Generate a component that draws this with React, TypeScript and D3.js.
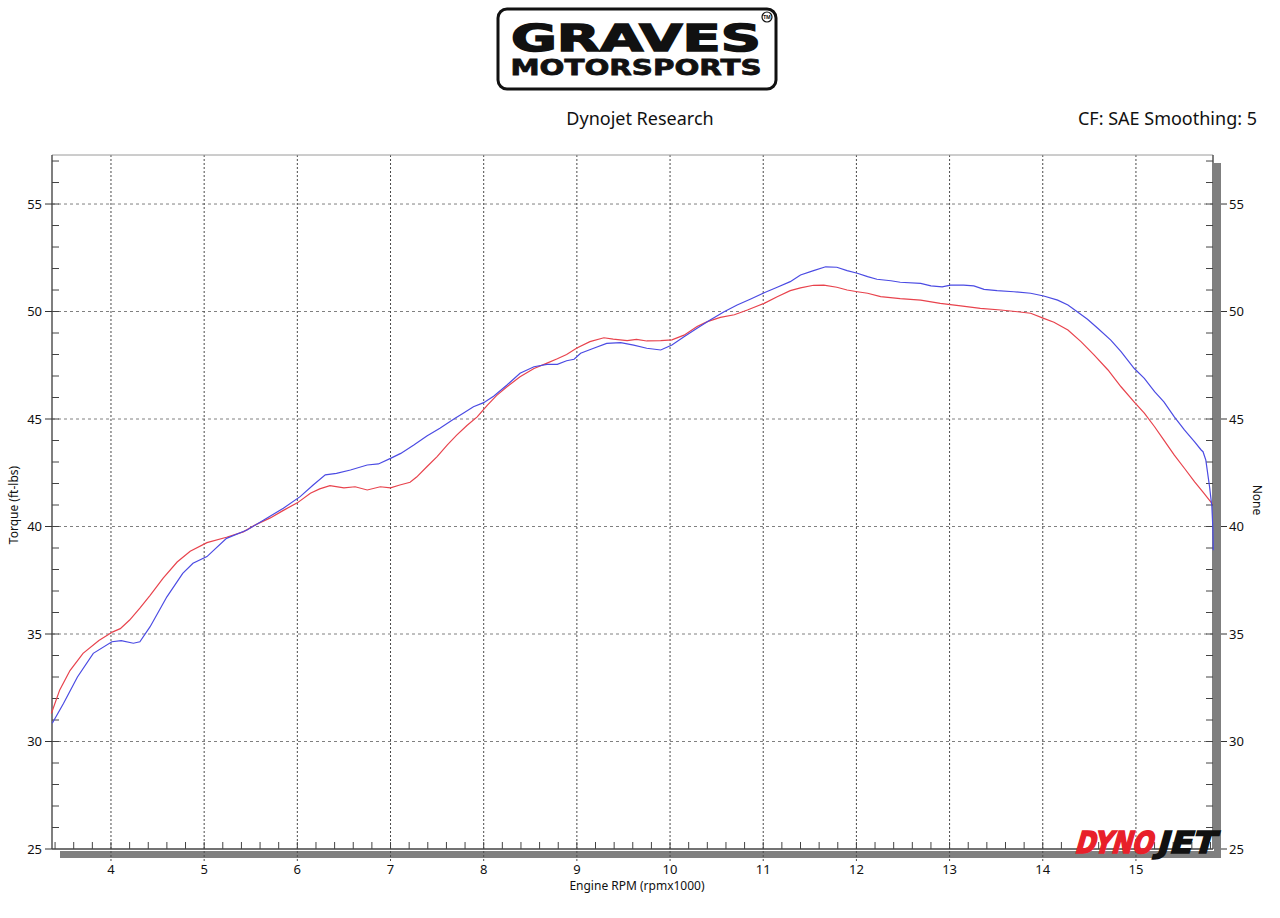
import * as d3 from "d3";

// baseline run (red) and modified run (blue), rpm x1000 vs torque ft-lbs
const redRpm = [3.36, 3.45, 3.56, 3.7, 3.87, 4.02, 4.1, 4.2, 4.31, 4.42, 4.56, 4.71, 4.85, 5.03, 5.24, 5.42, 5.56, 5.71, 5.85, 6.0, 6.14, 6.24, 6.35, 6.5, 6.62, 6.75, 6.89, 7.0, 7.1, 7.21, 7.28, 7.39, 7.5, 7.61, 7.71, 7.82, 7.93, 8.04, 8.14, 8.25, 8.39, 8.54, 8.68, 8.79, 8.89, 9.0, 9.14, 9.29, 9.39, 9.54, 9.64, 9.75, 9.9, 10.02, 10.15, 10.29, 10.4, 10.54, 10.69, 10.83, 11.01, 11.15, 11.29, 11.4, 11.54, 11.65, 11.79, 11.9, 12.01, 12.12, 12.26, 12.47, 12.69, 12.9, 13.12, 13.33, 13.55, 13.73, 13.87, 14.01, 14.12, 14.27, 14.41, 14.55, 14.7, 14.84, 14.98, 15.09, 15.2, 15.3, 15.41, 15.52, 15.63, 15.72, 15.82];
const redTq = [31.3, 32.4, 33.3, 34.1, 34.7, 35.1, 35.25, 35.65, 36.2, 36.8, 37.6, 38.35, 38.85, 39.25, 39.5, 39.75, 40.1, 40.4, 40.75, 41.1, 41.55, 41.75, 41.9, 41.8, 41.85, 41.7, 41.85, 41.8, 41.93, 42.06, 42.3, 42.78, 43.25, 43.8, 44.25, 44.7, 45.1, 45.65, 46.1, 46.5, 46.97, 47.35, 47.6, 47.8, 48.0, 48.3, 48.6, 48.78, 48.72, 48.65, 48.7, 48.63, 48.65, 48.68, 48.9, 49.3, 49.53, 49.73, 49.85, 50.07, 50.38, 50.69, 50.97, 51.1, 51.22, 51.23, 51.13, 51.0, 50.92, 50.85, 50.69, 50.6, 50.53, 50.38, 50.26, 50.15, 50.07, 49.99, 49.92, 49.68, 49.5, 49.14, 48.6, 47.98, 47.28, 46.5, 45.8, 45.27, 44.64, 44.02, 43.33, 42.71, 42.08, 41.6, 41.05];

const blueRpm = [3.37, 3.49, 3.64, 3.81, 4.01, 4.11, 4.24, 4.31, 4.42, 4.6, 4.77, 4.88, 5.03, 5.24, 5.46, 5.64, 5.85, 6.03, 6.17, 6.3, 6.42, 6.57, 6.75, 6.87, 7.0, 7.11, 7.25, 7.39, 7.53, 7.68, 7.78, 7.89, 8.0, 8.11, 8.25, 8.39, 8.54, 8.68, 8.79, 8.89, 8.97, 9.04, 9.18, 9.32, 9.47, 9.61, 9.75, 9.9, 10.02, 10.15, 10.29, 10.43, 10.58, 10.72, 10.86, 11.01, 11.15, 11.29, 11.4, 11.54, 11.67, 11.79, 11.9, 12.01, 12.12, 12.22, 12.37, 12.47, 12.69, 12.8, 12.92, 13.01, 13.15, 13.26, 13.37, 13.51, 13.69, 13.87, 14.01, 14.16, 14.27, 14.37, 14.48, 14.59, 14.73, 14.84, 14.98, 15.09, 15.2, 15.3, 15.41, 15.52, 15.63, 15.7, 15.72, 15.75, 15.79, 15.815, 15.825, 15.83];
const blueTq = [30.85, 31.77, 33.0, 34.1, 34.64, 34.69, 34.57, 34.64, 35.34, 36.73, 37.82, 38.29, 38.6, 39.45, 39.84, 40.3, 40.85, 41.39, 41.93, 42.4, 42.47, 42.63, 42.86, 42.91, 43.17, 43.4, 43.79, 44.21, 44.57, 45.0, 45.27, 45.57, 45.76, 46.07, 46.58, 47.13, 47.43, 47.54, 47.54, 47.71, 47.78, 48.06, 48.29, 48.52, 48.55, 48.44, 48.29, 48.21, 48.44, 48.83, 49.22, 49.6, 49.99, 50.3, 50.57, 50.87, 51.13, 51.39, 51.7, 51.9, 52.08, 52.06, 51.9, 51.78, 51.62, 51.5, 51.43, 51.36, 51.31, 51.19, 51.15, 51.23, 51.23, 51.19, 51.03, 50.97, 50.92, 50.85, 50.72, 50.53, 50.3, 49.99, 49.64, 49.22, 48.67, 48.13, 47.36, 46.89, 46.27, 45.8, 45.11, 44.49, 43.94, 43.56, 43.48, 43.09, 41.85, 40.92, 39.99, 38.9];

const xTicks = [4, 5, 6, 7, 8, 9, 10, 11, 12, 13, 14, 15];
const yTicks = [25, 30, 35, 40, 45, 50, 55];

const W = 1280;
const H = 918;
const plot = { left: 52, right: 1213, top: 155, bottom: 849 };
const FONT = "'Noto Sans', 'DejaVu Sans', sans-serif";

export default function App() {
  const x = d3.scaleLinear().domain([3.367, 15.827]).range([plot.left, plot.right]);
  const y = d3.scaleLinear().domain([25, 57.28]).range([plot.bottom, plot.top]);

  const line = d3
    .line<[number, number]>()
    .x((d) => x(d[0]))
    .y((d) => y(d[1]))
    .curve(d3.curveLinear);

  const red = redRpm.map((r, i) => [r, redTq[i]] as [number, number]);
  const blue = blueRpm.map((r, i) => [r, blueTq[i]] as [number, number]);

  const minorX = d3.range(3.4, 15.81, 0.2);
  const minorY = d3.range(26, 58, 1);

  return (
    <svg width={W} height={H} style={{ position: "absolute", left: 0, top: 0, background: "#fff" }} fontFamily={FONT}>
      {/* logo */}
      <g>
        <rect x={498} y={9} width={278} height={80} rx={9} fill="#fff" stroke="#111" strokeWidth={3} />
        <text x={636} y={51} textAnchor="middle" fontFamily="'DejaVu Sans', sans-serif" fontWeight="900" fontSize={37}
          textLength={250} lengthAdjust="spacingAndGlyphs" fill="#111" stroke="#111" strokeWidth={1.5}>GRAVES</text>
        <text x={636} y={75} textAnchor="middle" fontFamily="'DejaVu Sans', sans-serif" fontWeight="900" fontSize={22}
          textLength={251} lengthAdjust="spacingAndGlyphs" fill="#111" stroke="#111" strokeWidth={0.8}>MOTORSPORTS</text>
        <circle cx={767} cy={17} r={5} fill="none" stroke="#111" strokeWidth={1.2} />
        <text x={767} y={19} textAnchor="middle" fontSize={5} fontWeight="bold" fill="#111">TM</text>
      </g>

      <text x={640} y={125} textAnchor="middle" fontSize={18} fill="#111">Dynojet Research</text>
      <text x={1257} y={125} textAnchor="end" fontSize={18} fill="#111">CF: SAE Smoothing: 5</text>

      {/* shadows */}
      <rect x={60} y={plot.bottom + 2} width={plot.right + 7 - 60} height={7} fill="#7f7f7f" />
      <rect x={plot.right + 1} y={163} width={7} height={plot.bottom + 9 - 163} fill="#7f7f7f" />

      {/* grid */}
      {yTicks.filter((t) => t > 25).map((t) => (
        <line key={"gy" + t} x1={plot.left} x2={plot.right} y1={y(t)} y2={y(t)} stroke="#808080" strokeDasharray="3,3" />
      ))}
      {xTicks.map((t) => (
        <line key={"gx" + t} x1={x(t)} x2={x(t)} y1={plot.top} y2={plot.bottom + 13} stroke="#4a4a4a" strokeDasharray="2,2" />
      ))}

      {/* frame */}
      <line x1={plot.left} x2={plot.right} y1={plot.top} y2={plot.top} stroke="#9a9a9a" />
      <line x1={plot.left} x2={plot.left} y1={plot.top} y2={plot.bottom} stroke="#555" strokeWidth={1.5} />
      <line x1={plot.right} x2={plot.right} y1={plot.top} y2={plot.bottom} stroke="#555" strokeWidth={1.5} />
      <line x1={plot.left} x2={plot.right} y1={plot.bottom} y2={plot.bottom} stroke="#444" strokeWidth={1.5} />

      {/* minor ticks */}
      {minorX.map((t, i) => (
        <line key={"mx" + i} x1={x(t)} x2={x(t)} y1={plot.bottom - 7} y2={plot.bottom} stroke="#444" />
      ))}
      {minorY.map((t) => (
        <g key={"my" + t}>
          <line x1={plot.left} x2={plot.left + 7} y1={y(t)} y2={y(t)} stroke="#444" />
          <line x1={plot.right - 7} x2={plot.right} y1={y(t)} y2={y(t)} stroke="#444" />
        </g>
      ))}

      {/* y axis labels */}
      {yTicks.map((t) => (
        <g key={"yl" + t}>
          <line x1={plot.left - 7} x2={plot.left} y1={y(t)} y2={y(t)} stroke="#333" />
          <text x={42} y={y(t) + 4.5} textAnchor="end" fontSize={13} fill="#111">{t}</text>
          <line x1={plot.right + 8} x2={plot.right + 14} y1={y(t)} y2={y(t)} stroke="#333" />
          <text x={1229} y={y(t) + 4.5} textAnchor="start" fontSize={13} fill="#111">{t}</text>
        </g>
      ))}

      {/* x axis labels */}
      {xTicks.map((t) => (
        <text key={"xl" + t} x={x(t)} y={874} textAnchor="middle" fontSize={13} fill="#111">{t}</text>
      ))}
      <text x={637} y={890} textAnchor="middle" fontSize={12} fill="#111">Engine RPM (rpmx1000)</text>
      <text transform={`translate(18,505) rotate(-90)`} textAnchor="middle" fontSize={12} fill="#111">Torque (ft-lbs)</text>
      <text transform={`translate(1253,500) rotate(90)`} textAnchor="middle" fontSize={12} fill="#111">None</text>

      {/* dynojet mark */}
      <g transform="translate(1074,853) skewX(-16)">
        <text x={0} y={0} fontFamily="'DejaVu Sans', sans-serif" fontWeight="900" fontSize={30}
          textLength={78} lengthAdjust="spacingAndGlyphs" fill="#e8202a" stroke="#e8202a" strokeWidth={1.6}>DYNO</text>
        <text x={82} y={0} fontFamily="'DejaVu Sans', sans-serif" fontWeight="900" fontSize={30}
          textLength={58} lengthAdjust="spacingAndGlyphs" fill="#111" stroke="#111" strokeWidth={1.6}>JET</text>
      </g>

      {/* curves */}
      <path d={line(red) ?? ""} fill="none" stroke="#e8434d" strokeWidth={1.2} />
      <path d={line(blue) ?? ""} fill="none" stroke="#4b4be3" strokeWidth={1.2} />
    </svg>
  );
}
